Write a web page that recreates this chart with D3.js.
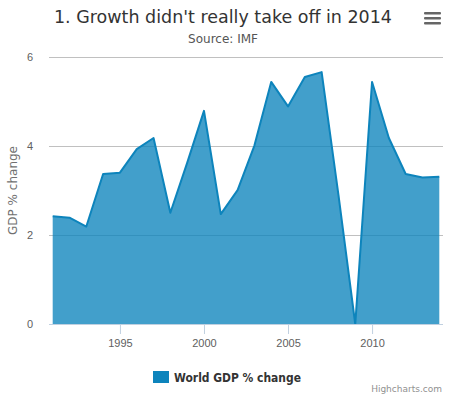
<!DOCTYPE html>
<html><head><meta charset="utf-8">
<script src="https://cdn.jsdelivr.net/npm/d3@7"></script>
<style>
html,body{margin:0;padding:0;background:#fff;}
svg{display:block;font-family:"DejaVu Sans","Lucida Grande",Verdana,Arial,sans-serif;}
</style></head>
<body>
<svg id="c" width="452" height="403"></svg>
<script>
const years = [1991,1992,1993,1994,1995,1996,1997,1998,1999,2000,2001,2002,2003,2004,2005,2006,2007,2008,2009,2010,2011,2012,2013,2014];
const gdp = [2.42,2.39,2.19,3.37,3.40,3.93,4.18,2.50,3.62,4.79,2.47,3.01,4.01,5.44,4.89,5.55,5.66,2.9,0.0,5.44,4.18,3.37,3.29,3.31];
const yTicks = [0,2,4,6];
const xTicks = [1995,2000,2005,2010];
const seriesName = "World GDP % change";
const titleText = "1. Growth didn't really take off in 2014";
const subtitleText = "Source: IMF";
const yTitle = "GDP % change";

const svg = d3.select("#c");
const L = 49, R = 443, T = 57, B = 324;
const x = d3.scaleLinear().domain([1990.78, 2014.22]).range([L, R]);
const y = d3.scaleLinear().domain([0, 6]).range([B, T]);
const data = years.map((yr,i)=>({yr, v: gdp[i]}));

// grid
svg.append("g").selectAll("line").data(yTicks).join("line")
  .attr("x1", L).attr("x2", R)
  .attr("y1", d=>Math.round(y(d))+0.5).attr("y2", d=>Math.round(y(d))+0.5)
  .attr("stroke", "#C0C0C0").attr("stroke-width", 1);

// area
const area = d3.area().x(d=>x(d.yr)).y0(y(0)).y1(d=>y(d.v));
const line = d3.line().x(d=>x(d.yr)).y(d=>y(d.v));
svg.append("path").datum(data).attr("d", area)
  .attr("fill", "#0d84bc").attr("fill-opacity", 0.78);
svg.append("path").datum(data).attr("d", line)
  .attr("fill", "none").attr("stroke", "#0d84bc").attr("stroke-width", 2)
  .attr("stroke-linejoin", "round");

// x axis
const xAxis = d3.axisBottom(x).tickValues(xTicks).tickSize(10).tickPadding(5).tickFormat(d3.format("d"));
const gx = svg.append("g").attr("transform", `translate(0,${B})`).call(xAxis);
gx.select(".domain").remove();
gx.append("line").attr("x1", L).attr("x2", R).attr("y1", 0.5).attr("y2", 0.5).attr("stroke", "#C0D0E0");
gx.selectAll(".tick line").attr("stroke", "#C0D0E0");
gx.selectAll(".tick text").attr("fill", "#606060").attr("font-size", 11).attr("font-family", null);

// y axis labels
const yAxis = d3.axisLeft(y).tickValues(yTicks).tickSize(0).tickPadding(16).tickFormat(d3.format("d"));
const gy = svg.append("g").attr("transform", `translate(${L},0)`).call(yAxis);
gy.select(".domain").remove();
gy.selectAll(".tick text").attr("fill", "#606060").attr("font-size", 11).attr("font-family", null);

// y title
svg.append("text").attr("transform", `translate(17,${(T+B)/2}) rotate(-90)`)
  .attr("text-anchor", "middle").attr("fill", "#707070").attr("font-size", 12)
  .text(yTitle);

// title
svg.append("text").attr("x", 223).attr("y", 23).attr("text-anchor", "middle")
  .attr("fill", "#333333").attr("font-size", 18)
  .attr("textLength", 338).attr("lengthAdjust", "spacingAndGlyphs").text(titleText);
svg.append("text").attr("x", 223).attr("y", 43).attr("text-anchor", "middle")
  .attr("fill", "#555555").attr("font-size", 12).text(subtitleText);

// menu icon
svg.append("g").selectAll("rect").data([0,1,2]).join("rect")
  .attr("x", 424).attr("y", d=>12+d*5).attr("width", 17).attr("height", 2.6).attr("rx",1)
  .attr("fill", "#666666");

// legend
const lg = svg.append("g");
lg.append("rect").attr("x", 153).attr("y", 371).attr("width", 16).attr("height", 12).attr("fill", "#0d84bc");
lg.append("text").attr("x", 174).attr("y", 382).attr("fill", "#333333")
  .attr("font-size", 12).attr("font-weight", "bold")
  .attr("textLength", 127).attr("lengthAdjust", "spacingAndGlyphs").text(seriesName);

// credits
svg.append("text").attr("x", 442).attr("y", 392).attr("text-anchor", "end")
  .attr("fill", "#909090").attr("font-size", 9).text("Highcharts.com");
</script>
</body></html>
